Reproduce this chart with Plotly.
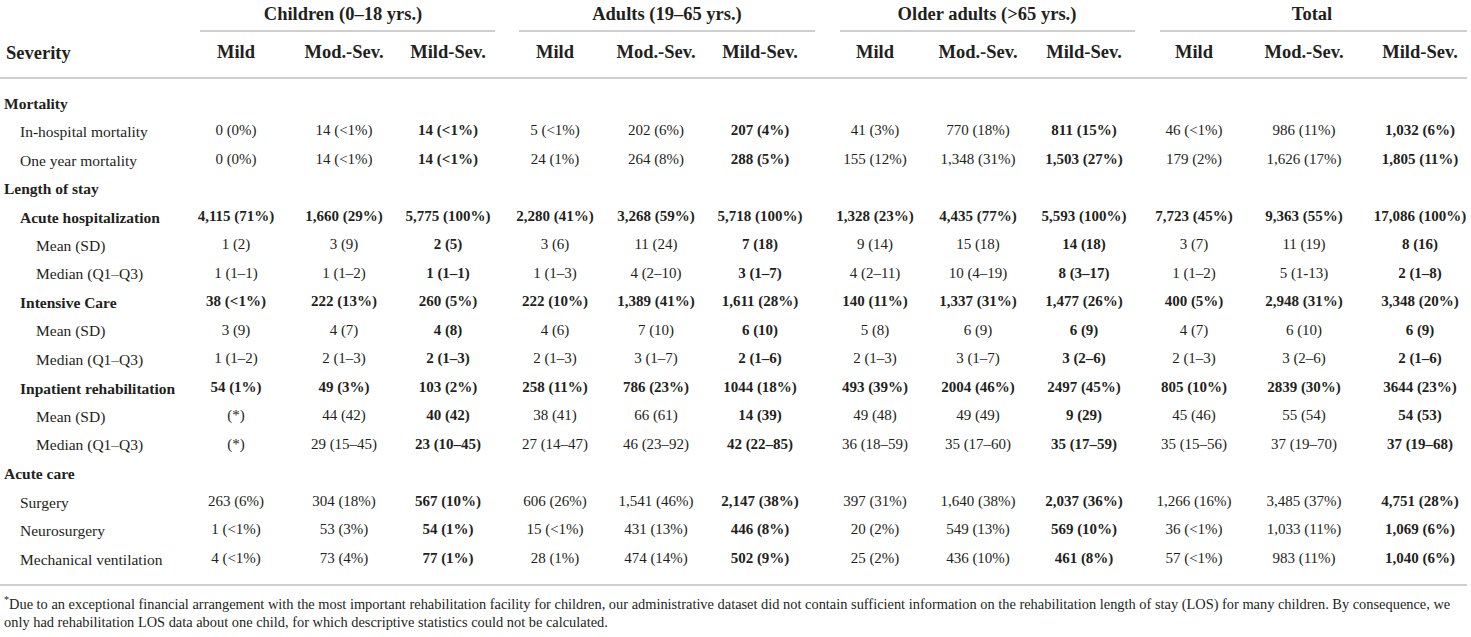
import plotly.graph_objects as go

# ---------------- data ----------------
groups = ["Children (0–18 yrs.)", "Adults (19–65 yrs.)", "Older adults (>65 yrs.)", "Total"]
subheaders = ["Mild", "Mod.-Sev.", "Mild-Sev."]
first_header = "Severity"

row_labels = ["Mortality", "In-hospital mortality", "One year mortality", "Length of stay",
              "Acute hospitalization", "Mean (SD)", "Median (Q1–Q3)",
              "Intensive Care", "Mean (SD)", "Median (Q1–Q3)",
              "Inpatient rehabilitation", "Mean (SD)", "Median (Q1–Q3)",
              "Acute care", "Surgery", "Neurosurgery", "Mechanical ventilation"]
row_kind = ["section", "item", "item", "section",
            "sub", "detail", "detail",
            "sub", "detail", "detail",
            "sub", "detail", "detail",
            "section", "item", "item", "item"]

children_mild = ["", "0 (0%)", "0 (0%)", "", "4,115 (71%)", "1 (2)", "1 (1–1)", "38 (<1%)", "3 (9)", "1 (1–2)", "54 (1%)", "(*)", "(*)", "", "263 (6%)", "1 (<1%)", "4 (<1%)"]
children_modsev = ["", "14 (<1%)", "14 (<1%)", "", "1,660 (29%)", "3 (9)", "1 (1–2)", "222 (13%)", "4 (7)", "2 (1–3)", "49 (3%)", "44 (42)", "29 (15–45)", "", "304 (18%)", "53 (3%)", "73 (4%)"]
children_mildsev = ["", "14 (<1%)", "14 (<1%)", "", "5,775 (100%)", "2 (5)", "1 (1–1)", "260 (5%)", "4 (8)", "2 (1–3)", "103 (2%)", "40 (42)", "23 (10–45)", "", "567 (10%)", "54 (1%)", "77 (1%)"]
adults_mild = ["", "5 (<1%)", "24 (1%)", "", "2,280 (41%)", "3 (6)", "1 (1–3)", "222 (10%)", "4 (6)", "2 (1–3)", "258 (11%)", "38 (41)", "27 (14–47)", "", "606 (26%)", "15 (<1%)", "28 (1%)"]
adults_modsev = ["", "202 (6%)", "264 (8%)", "", "3,268 (59%)", "11 (24)", "4 (2–10)", "1,389 (41%)", "7 (10)", "3 (1–7)", "786 (23%)", "66 (61)", "46 (23–92)", "", "1,541 (46%)", "431 (13%)", "474 (14%)"]
adults_mildsev = ["", "207 (4%)", "288 (5%)", "", "5,718 (100%)", "7 (18)", "3 (1–7)", "1,611 (28%)", "6 (10)", "2 (1–6)", "1044 (18%)", "14 (39)", "42 (22–85)", "", "2,147 (38%)", "446 (8%)", "502 (9%)"]
older_mild = ["", "41 (3%)", "155 (12%)", "", "1,328 (23%)", "9 (14)", "4 (2–11)", "140 (11%)", "5 (8)", "2 (1–3)", "493 (39%)", "49 (48)", "36 (18–59)", "", "397 (31%)", "20 (2%)", "25 (2%)"]
older_modsev = ["", "770 (18%)", "1,348 (31%)", "", "4,435 (77%)", "15 (18)", "10 (4–19)", "1,337 (31%)", "6 (9)", "3 (1–7)", "2004 (46%)", "49 (49)", "35 (17–60)", "", "1,640 (38%)", "549 (13%)", "436 (10%)"]
older_mildsev = ["", "811 (15%)", "1,503 (27%)", "", "5,593 (100%)", "14 (18)", "8 (3–17)", "1,477 (26%)", "6 (9)", "3 (2–6)", "2497 (45%)", "9 (29)", "35 (17–59)", "", "2,037 (36%)", "569 (10%)", "461 (8%)"]
total_mild = ["", "46 (<1%)", "179 (2%)", "", "7,723 (45%)", "3 (7)", "1 (1–2)", "400 (5%)", "4 (7)", "2 (1–3)", "805 (10%)", "45 (46)", "35 (15–56)", "", "1,266 (16%)", "36 (<1%)", "57 (<1%)"]
total_modsev = ["", "986 (11%)", "1,626 (17%)", "", "9,363 (55%)", "11 (19)", "5 (1-13)", "2,948 (31%)", "6 (10)", "3 (2–6)", "2839 (30%)", "55 (54)", "37 (19–70)", "", "3,485 (37%)", "1,033 (11%)", "983 (11%)"]
total_mildsev = ["", "1,032 (6%)", "1,805 (11%)", "", "17,086 (100%)", "8 (16)", "2 (1–8)", "3,348 (20%)", "6 (9)", "2 (1–6)", "3644 (23%)", "54 (53)", "37 (19–68)", "", "4,751 (28%)", "1,069 (6%)", "1,040 (6%)"]

footnote_lines = [
    "<sup>*</sup>Due to an exceptional financial arrangement with the most important rehabilitation facility for children, our administrative dataset did not contain sufficient information on the rehabilitation length of stay (LOS) for many children. By consequence, we",
    "only had rehabilitation LOS data about one child, for which descriptive statistics could not be calculated.",
]

columns = [children_mild, children_modsev, children_mildsev,
           adults_mild, adults_modsev, adults_mildsev,
           older_mild, older_modsev, older_mildsev,
           total_mild, total_modsev, total_mildsev]

# ---------------- layout ----------------
W, H = 1471, 637
FONT = "Liberation Serif"
TXT = "#231f20"
LINE = "#cfcfcf"

col_x = [236, 344, 448, 555, 656, 760, 875, 978, 1084, 1194, 1304, 1420]
group_x = [343, 667, 987, 1312]
group_span = [(200, 495), (519, 815), (840, 1135), (1160, 1467)]
row_top, row_pitch = 103, 28.5
row_y = [row_top + i * row_pitch for i in range(len(row_labels))]
indent = {"section": 2, "item": 18, "sub": 18, "detail": 34}
HEAD_SIZE = 18.5
CELL_SIZE = 15
LABEL_SIZE = 15.5
FOOT_SIZE = 14.4

fig = go.Figure()

# group titles
fig.add_trace(go.Scatter(x=group_x, y=[15] * 4, mode="text",
                         text=[f"<b>{g}</b>" for g in groups],
                         textposition="middle center",
                         textfont=dict(family=FONT, size=HEAD_SIZE, color=TXT),
                         hoverinfo="skip", showlegend=False))
# subheaders
fig.add_trace(go.Scatter(x=col_x, y=[53] * len(col_x), mode="text",
                         text=[f"<b>{subheaders[i % 3]}</b>" for i in range(len(col_x))],
                         textposition="middle center",
                         textfont=dict(family=FONT, size=HEAD_SIZE, color=TXT),
                         hoverinfo="skip", showlegend=False))
# cells
for ci, col in enumerate(columns):
    xs, ys, texts = [], [], []
    for ri, v in enumerate(col):
        if not v:
            continue
        bold = row_kind[ri] == "sub" or ci % 3 == 2
        xs.append(col_x[ci])
        ys.append(row_y[ri])
        texts.append(f"<b>{v}</b>" if bold else v)
    fig.add_trace(go.Scatter(x=xs, y=ys, mode="text",
                             text=texts, textposition="middle center",
                             textfont=dict(family=FONT, size=CELL_SIZE, color=TXT),
                             hoverinfo="skip", showlegend=False))

annotations = []
annotations.append(dict(x=4, y=53, xref="x", yref="y", text=f"<b>{first_header}</b>",
                        xanchor="left", yanchor="middle", showarrow=False,
                        font=dict(family=FONT, size=HEAD_SIZE, color=TXT)))
for ri, lab in enumerate(row_labels):
    k = row_kind[ri]
    t = f"<b>{lab}</b>" if k in ("section", "sub") else lab
    annotations.append(dict(x=indent[k], y=row_y[ri], xref="x", yref="y", text=t,
                            xanchor="left", yanchor="middle", showarrow=False,
                            font=dict(family=FONT, size=LABEL_SIZE, color=TXT)))
for i, ln in enumerate(footnote_lines):
    annotations.append(dict(x=2, y=[603, 622][i], xref="x", yref="y", text=ln,
                            xanchor="left", yanchor="middle", showarrow=False,
                            font=dict(family=FONT, size=FOOT_SIZE, color=TXT)))

shapes = []
for (x0, x1) in group_span:
    shapes.append(dict(type="line", xref="x", yref="y", x0=x0, x1=x1, y0=31, y1=31,
                       line=dict(color=LINE, width=2)))
for yy in (78, 585):
    shapes.append(dict(type="line", xref="x", yref="y", x0=0, x1=1467, y0=yy, y1=yy,
                       line=dict(color=LINE, width=2)))

fig.update_layout(
    width=W, height=H, margin=dict(l=0, r=0, t=0, b=0),
    paper_bgcolor="white", plot_bgcolor="white",
    xaxis=dict(range=[0, W], visible=False, fixedrange=True),
    yaxis=dict(range=[H, 0], visible=False, fixedrange=True),
    annotations=annotations, shapes=shapes,
)

fig.write_html("out.html", config={"displayModeBar": False},
               post_script="document.body.style.margin='0px';")
